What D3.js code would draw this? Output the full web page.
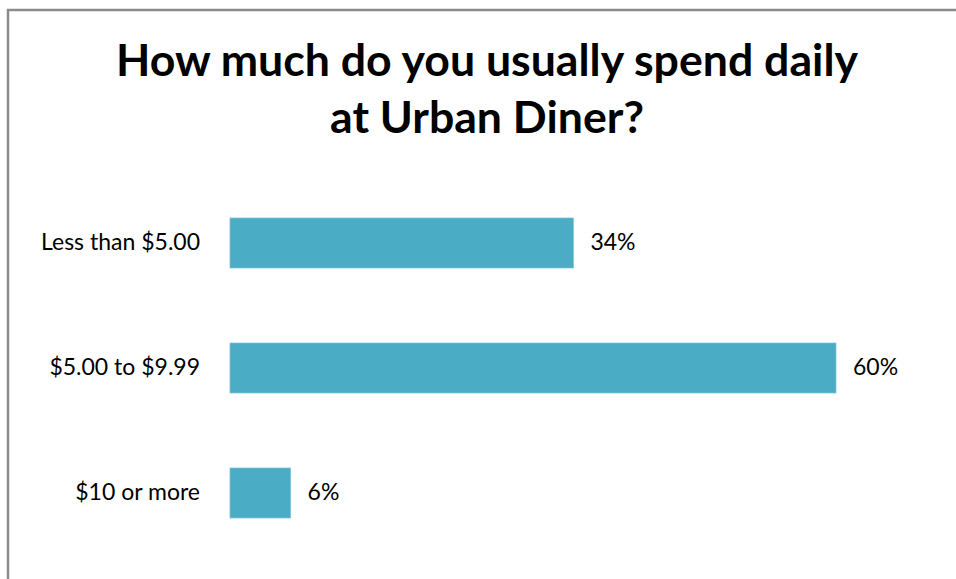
<!DOCTYPE html>
<html>
<head>
<meta charset="utf-8">
<script src="https://cdn.jsdelivr.net/npm/d3@7"></script>
<style>
  html, body { margin: 0; padding: 0; background: #fff; }
  svg { display: block; }
</style>
</head>
<body>
<svg id="chart" width="956" height="579"></svg>
<script>
// Survey answers and shares (percent)
const categories = ["Less than $5.00", "$5.00 to $9.99", "$10 or more"];
const shares = [34, 60, 6];
const titleLines = ["How much do you usually spend daily", "at Urban Diner?"];

const W = 956, H = 579;
const FONT = "Lato, 'Open Sans', 'Liberation Sans', sans-serif";
const svg = d3.select("#chart");

// Chart area frame
svg.append("rect")
  .attr("x", 8).attr("y", 10)
  .attr("width", W + 20).attr("height", H + 20)
  .attr("fill", "#fff")
  .attr("stroke", "#8c8c8c")
  .attr("stroke-width", 2.5);

// Fit a text element to a target pixel width by adjusting its font size
function fitWidth(sel, target, start) {
  let size = start;
  sel.attr("font-size", size);
  for (let i = 0; i < 4; i++) {
    const w = sel.node().getComputedTextLength();
    size = size * target / w;
    sel.attr("font-size", size);
  }
  return size;
}

// Title
const title = svg.append("g")
  .attr("font-family", FONT)
  .attr("font-weight", "bold")
  .attr("fill", "#000")
  .attr("text-anchor", "middle");
const t1 = title.append("text").attr("x", 487).attr("y", 76).text(titleLines[0]);
const titleSize = fitWidth(t1, 742, 40);
title.append("text").attr("x", 487).attr("y", 133)
  .attr("font-size", titleSize).text(titleLines[1]);

// Scales
const x = d3.scaleLinear().domain([0, 70]).range([230, 230 + 707]);
const y = d3.scaleBand()
  .domain(categories)
  .range([180.5, 555.5])
  .paddingInner(0.6)
  .paddingOuter(0.3);

// Category axis
const axis = svg.append("g")
  .attr("transform", `translate(${x(0) - 30},0)`)
  .call(d3.axisLeft(y).tickSize(0).tickPadding(0));
axis.select(".domain").remove();
axis.selectAll("text")
  .attr("font-family", FONT)
  .attr("fill", "#000")
  .attr("font-size", 20);
// size labels so the first category spans its measured width
const lab0 = axis.select("text").node();
const labSize = 20 * 159 / lab0.getComputedTextLength();
axis.selectAll("text").attr("font-size", labSize);

// Bars
svg.append("g").selectAll("rect")
  .data(categories)
  .join("rect")
  .attr("x", x(0))
  .attr("y", d => y(d))
  .attr("width", (d, i) => x(shares[i]) - x(0))
  .attr("height", y.bandwidth())
  .attr("fill", "#4bacc6")
  .attr("stroke", "#7cc3d6")
  .attr("stroke-width", 0.75);

// Value labels
svg.append("g").selectAll("text")
  .data(categories)
  .join("text")
  .attr("x", (d, i) => x(shares[i]) + 17)
  .attr("y", d => y(d) + y.bandwidth() / 2)
  .attr("dy", "0.32em")
  .attr("font-family", FONT)
  .attr("font-size", labSize)
  .attr("fill", "#000")
  .text((d, i) => shares[i] + "%");
</script>
</body>
</html>
